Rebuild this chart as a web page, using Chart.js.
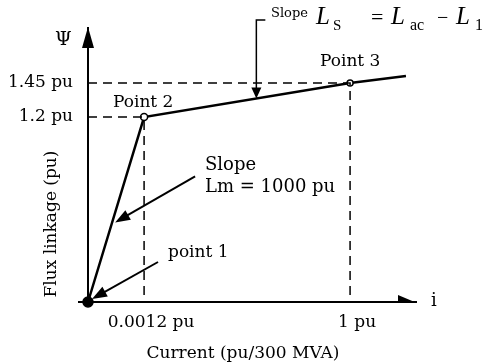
<!DOCTYPE html>
<html><head><meta charset="utf-8">
<script src="https://cdn.jsdelivr.net/npm/chart.js@4/dist/chart.umd.min.js"></script>
<style>html,body{margin:0;padding:0;background:#fff}canvas{display:block}</style>
</head><body>
<canvas id="c" width="498" height="364"></canvas>
<script>
// ---- data (per-unit values) ----
const curveCurrent = [0, 0.0012, 1, 1.2];
const curveFlux    = [0, 1.2, 1.45, 1.5];
const guide2Current = [0, 0.0012, 0.0012];
const guide2Flux    = [1.2, 1.2, 0];
const guide3Current = [0, 1, 1];
const guide3Flux    = [1.45, 1.45, 0];
const xTickValues = [0.0012, 1];
const xTickLabels = ['0.0012 pu', '1 pu'];
const yTickValues = [1.2, 1.45];
const yTickLabels = ['1.2 pu', '1.45 pu'];
const pointLabels = ['point 1', 'Point 2', 'Point 3'];
const slopeLm = 1000;
const xTitle = 'Current (pu/300 MVA)';
const yTitle = 'Flux linkage (pu)';

// schematic (non-proportional) axis: value breakpoints -> axis fraction
const pieceMaps = {
  x: { breaks: [0, 0.0012, 1, 1.236], stops: [0, 0.171, 0.799, 1] },
  y: { breaks: [0, 1.2, 1.45, 1.837], stops: [0, 0.675, 0.799, 1] }
};

class PiecewiseScale extends Chart.LinearScale {
  _frac(v) {
    const m = pieceMaps[this.id], b = m.breaks, f = m.stops;
    let i = 0;
    while (i < b.length - 2 && v > b[i + 1]) i++;
    return f[i] + (v - b[i]) * (f[i + 1] - f[i]) / (b[i + 1] - b[i]);
  }
  getPixelForValue(v) {
    return (v === null || v === undefined) ? NaN : this.getPixelForDecimal(this._frac(v));
  }
  getValueForPixel(p) {
    const m = pieceMaps[this.id], b = m.breaks, f = m.stops;
    const d = this.getDecimalForPixel(p);
    let i = 0;
    while (i < f.length - 2 && d > f[i + 1]) i++;
    return b[i] + (d - f[i]) * (b[i + 1] - b[i]) / (f[i + 1] - f[i]);
  }
}
PiecewiseScale.id = 'piecewise';
PiecewiseScale.defaults = Chart.LinearScale.defaults;
Chart.register(PiecewiseScale);

const zip = (xs, ys) => xs.map((x, i) => ({ x, y: ys[i] }));
const FONT = "'DejaVu Serif', serif";
const MATH = "'Liberation Serif', serif";
Chart.defaults.font.family = FONT;
Chart.defaults.font.size = 17;
Chart.defaults.color = '#000';

const annot = {
  id: 'annot',
  afterDatasetsDraw(chart) {
    const ctx = chart.ctx, sx = chart.scales.x, sy = chart.scales.y, a = chart.chartArea;
    const P = i => ({ x: sx.getPixelForValue(curveCurrent[i]), y: sy.getPixelForValue(curveFlux[i]) });
    const O = P(0), P2 = P(1), P3 = P(2);
    const lerp = (p, q, t) => ({ x: p.x + (q.x - p.x) * t, y: p.y + (q.y - p.y) * t });
    ctx.save();
    ctx.fillStyle = '#000'; ctx.strokeStyle = '#000';

    // axis arrowheads / extension
    ctx.beginPath();
    ctx.moveTo(a.left, a.top - 1); ctx.lineTo(a.left - 6, a.top + 20); ctx.lineTo(a.left + 6, a.top + 20);
    ctx.closePath(); ctx.fill();
    ctx.beginPath();
    ctx.moveTo(a.right - 18, a.bottom - 7); ctx.lineTo(a.right + 1, a.bottom + 1); ctx.lineTo(a.right - 18, a.bottom + 1);
    ctx.closePath(); ctx.fill();
    ctx.lineWidth = 2;
    ctx.beginPath(); ctx.moveTo(a.left - 10, a.bottom); ctx.lineTo(a.left, a.bottom); ctx.stroke();

    function arrow(from, to, len, w) {
      const ang = Math.atan2(to.y - from.y, to.x - from.x);
      ctx.lineWidth = 2;
      ctx.beginPath(); ctx.moveTo(from.x, from.y);
      ctx.lineTo(to.x - Math.cos(ang) * len * 0.6, to.y - Math.sin(ang) * len * 0.6); ctx.stroke();
      ctx.beginPath();
      ctx.moveTo(to.x, to.y);
      ctx.lineTo(to.x - Math.cos(ang) * len - Math.sin(ang) * w / 2, to.y - Math.sin(ang) * len + Math.cos(ang) * w / 2);
      ctx.lineTo(to.x - Math.cos(ang) * len + Math.sin(ang) * w / 2, to.y - Math.sin(ang) * len - Math.cos(ang) * w / 2);
      ctx.closePath(); ctx.fill();
    }

    // slope Lm arrow
    const tLm = lerp(O, P2, 0.43); tLm.x += 3;
    arrow({ x: tLm.x + 80, y: tLm.y - 46 }, tLm, 15, 11);
    // point 1 arrow
    const t1 = { x: O.x + 4, y: O.y - 3 };
    arrow({ x: O.x + 70, y: O.y - 40 }, t1, 15, 11);
    // slope Ls bracket arrow
    const tLs = lerp(P2, P3, 0.545);
    ctx.lineWidth = 1.5;
    ctx.beginPath(); ctx.moveTo(tLs.x + 9, 20); ctx.lineTo(tLs.x, 20); ctx.lineTo(tLs.x, tLs.y - 10); ctx.stroke();
    ctx.beginPath(); ctx.moveTo(tLs.x, tLs.y); ctx.lineTo(tLs.x - 5, tLs.y - 11); ctx.lineTo(tLs.x + 5, tLs.y - 11);
    ctx.closePath(); ctx.fill();

    // texts
    ctx.textBaseline = 'alphabetic'; ctx.textAlign = 'left';
    const txt = (s, x, y, size, style, fam) => { ctx.font = (style || '') + ' ' + size + 'px ' + (fam || FONT); ctx.fillText(s, x, y); };
    txt('\u03A8', 55, 45, 19);
    txt(pointLabels[1], 113, 107, 17);
    txt(pointLabels[2], 320, 66, 17);
    txt(pointLabels[0], 168, 257, 17);
    txt('Slope', 205, 170, 18);
    txt('Lm = ' + slopeLm + ' pu', 205, 192, 18);
    txt('i', 431, 306, 18);
    // Ls formula
    txt('Slope', 271, 17, 13);
    txt('L', 316, 24, 25, 'italic', MATH);
    txt('S', 333, 30, 15, '', MATH);
    txt('=', 371, 24, 22, '', MATH);
    txt('L', 391, 24, 25, 'italic', MATH);
    txt('ac', 410, 30, 16, '', MATH);
    txt('\u2212', 437, 24, 20, '', MATH);
    txt('L', 456, 24, 25, 'italic', MATH);
    txt('1', 475, 30, 16, '', MATH);
    // axis titles
    ctx.font = '17px ' + FONT; ctx.textAlign = 'center';
    ctx.fillText(xTitle, 243, 358);
    ctx.translate(52, 224); ctx.rotate(-Math.PI / 2);
    ctx.textBaseline = 'middle';
    ctx.fillText(yTitle, 0, 0);
    ctx.restore();
  }
};

const dashed = { borderColor: '#000', borderWidth: 1.5, borderDash: [9, 6], pointRadius: 0, showLine: true, fill: false, tension: 0, clip: false };

new Chart(document.getElementById('c'), {
  type: 'scatter',
  data: {
    datasets: [
      Object.assign({ data: zip(guide3Current, guide3Flux) }, dashed),
      Object.assign({ data: zip(guide2Current, guide2Flux) }, dashed),
      {
        data: zip(curveCurrent, curveFlux), showLine: true, borderColor: '#000', borderWidth: 2.5,
        tension: 0, fill: false, clip: false,
        pointRadius: [5, 3.5, 3, 0], pointBorderWidth: 1.5, pointBorderColor: '#000',
        pointBackgroundColor: ['#000', '#fff', '#fff', '#000']
      }
    ]
  },
  options: {
    responsive: false, animation: false, devicePixelRatio: 1, events: [],
    layout: { padding: { top: 28, right: 82, left: 0, bottom: 0 } },
    plugins: { legend: { display: false }, tooltip: { enabled: false }, title: { display: false } },
    scales: {
      x: {
        type: 'piecewise', min: 0, max: 1.236,
        grid: { display: false, drawTicks: false },
        border: { display: true, color: '#000', width: 2 },
        afterBuildTicks: s => { s.ticks = xTickValues.map(v => ({ value: v })); },
        afterFit: s => { s.height = 62; },
        ticks: { autoSkip: false, maxRotation: 0, padding: 10, labelOffset: 7, font: { size: 17 },
          callback: v => xTickLabels[xTickValues.indexOf(v)] }
      },
      y: {
        type: 'piecewise', min: 0, max: 1.837,
        grid: { display: false, drawTicks: false },
        border: { display: true, color: '#000', width: 2 },
        afterBuildTicks: s => { s.ticks = yTickValues.map(v => ({ value: v })); },
        afterFit: s => { s.width = 88; },
        ticks: { autoSkip: false, padding: 15, font: { size: 17 },
          callback: v => yTickLabels[yTickValues.indexOf(v)] }
      }
    }
  },
  plugins: [annot]
});
</script>
</body></html>
